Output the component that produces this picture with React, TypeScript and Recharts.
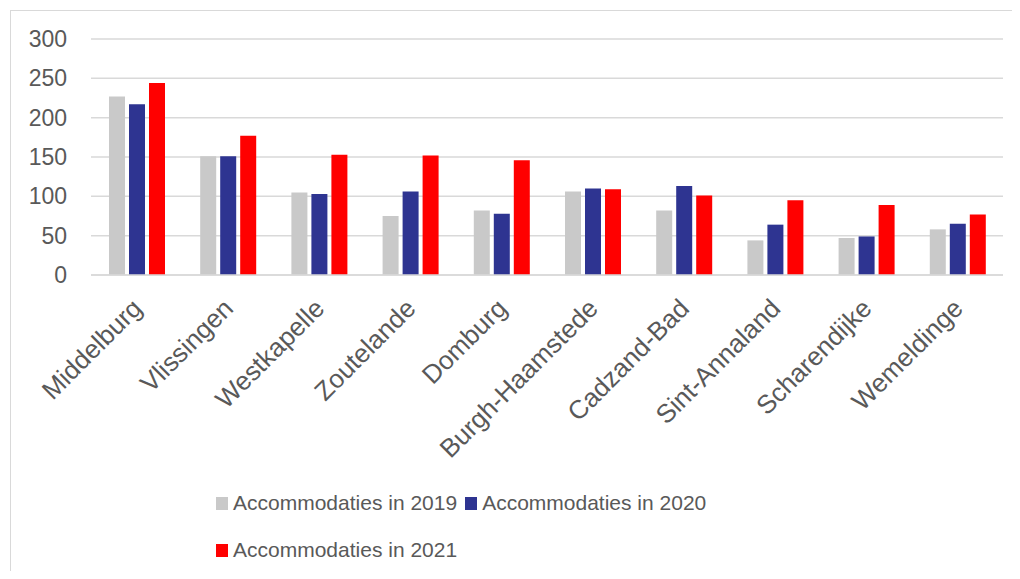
import React from 'react';
import { BarChart, Bar, XAxis, YAxis, CartesianGrid, Legend } from 'recharts';

const categories = [
  'Middelburg',
  'Vlissingen',
  'Westkapelle',
  'Zoutelande',
  'Domburg',
  'Burgh-Haamstede',
  'Cadzand-Bad',
  'Sint-Annaland',
  'Scharendijke',
  'Wemeldinge',
];
const acc2019 = [227, 151, 105, 75, 82, 106, 82, 44, 47, 58];
const acc2020 = [217, 151, 103, 106, 78, 110, 113, 64, 49, 65];
const acc2021 = [244, 177, 153, 152, 146, 109, 101, 95, 89, 77];
const yTicks = [0, 50, 100, 150, 200, 250, 300];

const data = categories.map((name, i) => ({
  name,
  a2019: acc2019[i],
  a2020: acc2020[i],
  a2021: acc2021[i],
}));

const FONT = '"Liberation Sans", Arial, sans-serif';
const TEXT = '#595959';

const XTick = (props: any) => {
  const { x, y, payload } = props;
  const tx = x + 7;
  const ty = y + 27;
  return (
    <text
      x={tx}
      y={ty}
      transform={`rotate(-45 ${tx} ${ty})`}
      textAnchor="end"
      fill={TEXT}
      fontSize={26}
      fontFamily={FONT}
    >
      {payload.value}
    </text>
  );
};

const LegendContent = (props: any) => {
  const { payload } = props;
  return (
    <div style={{ display: 'flex', flexWrap: 'wrap', width: 520, rowGap: 23 }}>
      {(payload || []).map((item: any) => (
        <div
          key={item.value}
          style={{ display: 'flex', alignItems: 'center', height: 24, marginRight: 8 }}
        >
          <span
            style={{ display: 'inline-block', width: 12, height: 13, background: item.color, marginRight: 5 }}
          />
          <span style={{ fontFamily: FONT, fontSize: 21, color: TEXT }}>{item.value}</span>
        </div>
      ))}
    </div>
  );
};

export default function App() {
  return (
    <div style={{ margin: -8, position: 'relative', width: 1020, height: 579, background: '#fff', overflow: 'hidden' }}>
      <div
        style={{
          position: 'absolute',
          left: 10,
          top: 10,
          width: 1030,
          height: 600,
          borderLeft: '1.5px solid #d9d9d9',
          borderTop: '1.5px solid #d9d9d9',
        }}
      />
      <BarChart
        width={1020}
        height={579}
        data={data}
        margin={{ top: 39, right: 17, left: 10, bottom: 0 }}
        barSize={16}
        barGap={4}
      >
        <CartesianGrid vertical={false} stroke="#d9d9d9" strokeWidth={1.5} />
        <XAxis
          dataKey="name"
          height={304}
          interval={0}
          axisLine={{ stroke: '#d9d9d9', strokeWidth: 1.5 }}
          tickLine={false}
          tick={<XTick />}
        />
        <YAxis
          width={81}
          domain={[0, 300]}
          ticks={yTicks}
          axisLine={false}
          tickLine={false}
          tickMargin={18}
          tick={{ fill: TEXT, fontSize: 23, fontFamily: FONT }}
        />
        <Legend
          layout="horizontal"
          verticalAlign="middle"
          align="center"
          wrapperStyle={{ left: 216, top: 491, width: 520 }}
          content={<LegendContent />}
        />
        <Bar dataKey="a2019" name="Accommodaties in 2019" fill="#c9c9c9" isAnimationActive={false} />
        <Bar dataKey="a2020" name="Accommodaties in 2020" fill="#2e3491" isAnimationActive={false} />
        <Bar dataKey="a2021" name="Accommodaties in 2021" fill="#ff0000" isAnimationActive={false} />
      </BarChart>
    </div>
  );
}
